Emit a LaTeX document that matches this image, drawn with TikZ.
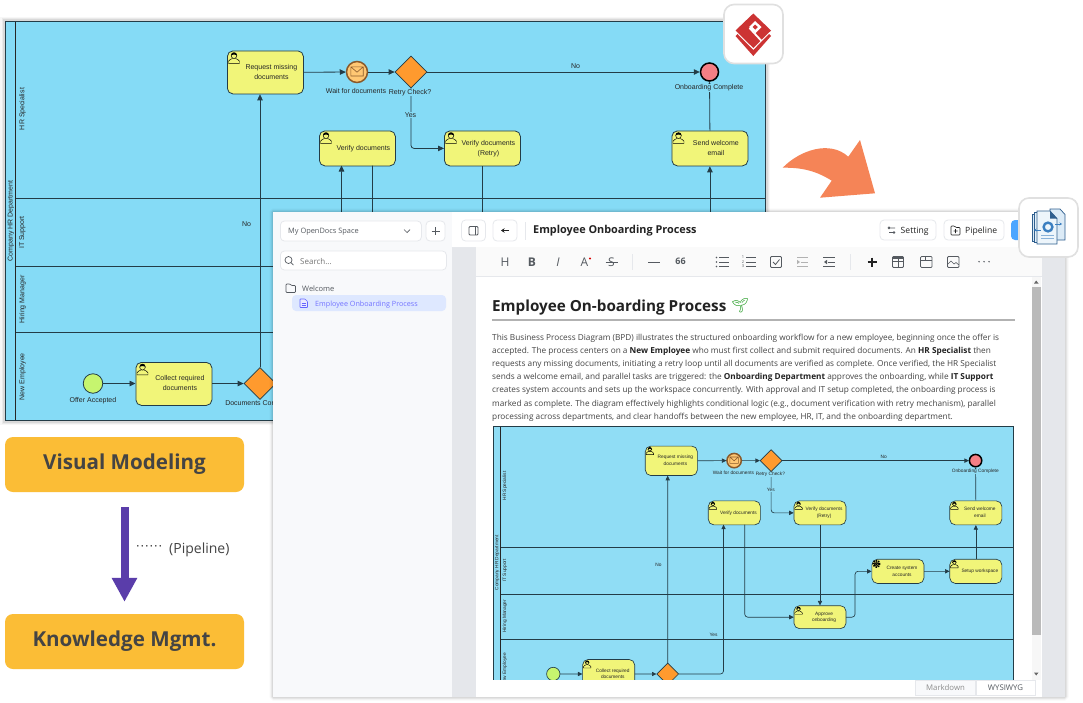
\documentclass[tikz,border=0pt]{standalone}
\usepackage{fontspec}
\usetikzlibrary{arrows.meta,shapes.geometric,calc}
\newfontfamily\ui{Open Sans}
\newfontfamily\bp{Liberation Sans}
\newfontfamily\emo{Noto Emoji}
\definecolor{bpbig}{HTML}{85DBF6}
\definecolor{bpsmall}{HTML}{90DDF5}
\colorlet{bpbg}{bpbig}
\definecolor{bpline}{HTML}{233C47}
\definecolor{bptask}{HTML}{F1F579}
\definecolor{bpdia}{HTML}{FF9A2E}
\definecolor{bpstart}{HTML}{C6F56F}
\definecolor{bpend}{HTML}{F57F85}
\definecolor{bpev}{HTML}{FFC773}
\definecolor{bpevb}{HTML}{8A5A2B}
\definecolor{goldbox}{HTML}{FBBD36}
\definecolor{purp}{HTML}{5A3DAA}
\definecolor{orangearrow}{HTML}{F58457}
\definecolor{panel}{HTML}{E5E7EB}
\definecolor{side}{HTML}{F8F9FB}
\definecolor{bord}{HTML}{E6E8EC}
\definecolor{txt}{HTML}{444444}
\definecolor{dark}{HTML}{222222}
\definecolor{ic}{HTML}{555A60}
\definecolor{logored}{HTML}{CC3333}
\definecolor{docblue}{HTML}{3C7FC0}
\definecolor{docfill}{HTML}{DCEBF7}
\definecolor{docline}{HTML}{2F5F8F}
\newif\ifbigver
\newcommand\hid[1]{\ifbigver\else#1\fi}
\newcommand\tiplen{6pt}
\newcommand\tipwid{5.5pt}
\newcommand\lw{.8pt}
\tikzset{
 bptext/.style={font=\bp\fontsize{7}{10}\selectfont,text=black!85,inner sep=.6pt},
 lbl/.style={bptext,fill=bpbg},
 lane/.style={bptext,rotate=90},
 taskbox/.style={draw=bpline,fill=bptask,line width=\lw,rounded corners=5.5pt,bptext,inner sep=0pt,anchor=north west,minimum width=76pt},
 gate/.style={diamond,aspect=1,draw=bpline,fill=bpdia,line width=\lw,inner sep=0pt,minimum width=32pt,minimum height=32pt},
 conn/.style={draw=bpline,line width=\lw,rounded corners=3pt,-{Triangle[length=\tiplen,width=\tipwid]}},
 plain/.style={draw=bpline,line width=\lw},
 btn/.style={draw=bord,fill=white,line width=.8pt,rounded corners=4pt,inner sep=0pt},
 uitext/.style={font=\ui\fontsize{#1}{#1}\selectfont,inner sep=0pt,text=txt},
 uitext/.default=8.5,
 tool/.style={draw=ic,line width=.9pt},
 gbox/.style={fill=goldbox,rounded corners=8pt,minimum width=239pt,minimum height=55pt,inner sep=0pt,font=\ui\bfseries\fontsize{20.6}{24}\selectfont,text=txt},
 logobox/.style={fill=white,rounded corners=10pt,draw=black!12,line width=1.6pt,minimum width=59pt,minimum height=59pt,inner sep=0pt}
}
\newcommand\softshad[5]{%
 \draw[line width=7pt,black,opacity=.03,rounded corners=#5] (#1,#2) rectangle (#3,#4);
 \draw[line width=4.5pt,black,opacity=.05,rounded corners=#5] (#1,#2) rectangle (#3,#4);
 \draw[line width=2.5pt,black,opacity=.07,rounded corners=#5] (#1,#2) rectangle (#3,#4);}
\newcommand\usr{%
 \draw[black,line width=.45pt,fill=bptask] (1.5,12.8) -- (1.5,10.8) .. controls (1.5,9) and (4.5,9.2) .. (5.3,8) -- (8.7,8) .. controls (9.5,9.2) and (12.5,9) .. (12.5,10.8) -- (12.5,12.8) -- cycle;
 \draw[black,line width=.45pt,fill=bptask] (7,5.2) circle (2.8);
 \fill[black] (4,5) .. controls (3.6,0.8) and (10.4,0.8) .. (10,5) .. controls (9,3.8) and (5,3.8) .. (4,5) -- cycle;}
\newcommand\gear{%
 \draw[black,line width=1.7pt,dash pattern=on 1.3pt off 1pt] (7,7) circle (4.6);
 \draw[black,line width=.6pt] (7,7) circle (3.2);
 \draw[black,line width=.8pt] (7,7) circle (1.6);}
\newcommand\task[6]{%
 \pgfmathsetmacro\hh{#4-#3}%
 \node[taskbox,minimum height=\hh pt] (#1) at (#2,#3) {\kern12pt\begin{tabular}{@{}c@{}}#5\end{tabular}};
 \begin{scope}[shift={(#2,#3)}]#6\end{scope}}
\newcommand\diagram{%
 \fill[bpbg] (5,21.5) rectangle (765.5,420.5);
 \draw[bpline,line width=\lw] (15.5,198.5) -- (765.5,198.5) (15.5,266.5) -- (765.5,266.5) (15.5,332.5) -- (765.5,332.5);
 \draw[black!85,line width=1pt] (15.5,21.5) -- (15.5,420.5);
 \draw[bpline,line width=1pt] (5,21.5) rectangle (765.5,420.5);
 \node[bptext,rotate=90] (pool) at (11,221) {Company HR Department};
 \node[lane] (l1) at (22.5,109) {HR Specialist};
 \node[lane] (l2) at (22.5,232.5) {IT Support};
 \node[lane] (l3) at (22.5,299.5) {Hiring Manager};
 \node[lane] (l4) at (22.5,376.7) {New Employee};
 \task{req}{227}{50.5}{93.5}{Request missing\\documents}{\usr}
 \task{ver}{319}{130.5}{165.5}{Verify documents}{\usr}
 \task{vret}{444}{130.5}{165.5}{Verify documents\\(Retry)}{\usr}
 \task{send}{671.5}{130.5}{165.5}{Send welcome\\email}{\usr}
 \task{coll}{135.5}{362}{405}{Collect required\\documents}{\usr}
 \task{create}{557.8}{215.7}{251}{\hid{Create system\\accounts}}{\gear}
 \task{setup}{671.5}{215.7}{251}{\hid{Setup workspace}}{\usr}
 \task{appr}{444}{283.5}{317}{\hid{Approve\\onboarding}}{\usr}
 \node[circle,draw=bpevb,fill=bpev,line width=1.5pt,minimum size=21pt,inner sep=0pt] (wait) at (357,72) {};
 \draw[bpevb,line width=.6pt,fill=bpev] (350.8,66.8) rectangle (363.2,76) (350.8,66.8) -- (357,72.2) -- (363.2,66.8);
 \node[gate] (retry) at (411,72) {};
 \node[gate] (docc) at (260,383.5) {};
 \node[circle,draw=black,fill=bpend,line width=1.5pt,minimum size=18pt,inner sep=0pt] (fin) at (709.5,72) {};
 \node[circle,draw=bpline,fill=bpstart,line width=\lw,minimum size=19.5pt,inner sep=0pt] (st) at (93,383.5) {};
 \coordinate (vin) at (341.5,165.5);
 \coordinate (vout) at (372.5,165.5);
 \coordinate (mid) at (533.5,266);
 \path[conn] (req) -- (wait);
 \path[conn] (wait) -- (retry);
 \path[conn] (retry) -- (fin);
 \path[conn] (retry.south) |- (vret.west);
 \path[conn] (st) -- (coll.west |- st);
 \path[conn] (coll.east |- docc) -- (docc);
 \path[conn] (docc) -- (docc |- req.south);
 \path[conn] (docc.east) -| (vin);
 \path[conn] (vout) |- (appr.west);
 \path[conn] (vret.south) -- (appr.north);
 \path[conn] (appr.east) -| (mid) |- (create.west);
 \path[conn] (create.east |- setup) -- (setup);
 \path[conn] (setup.north) -- (send.south);
 \path[conn] (send.north) -- (fin.south);
 \node[lbl] (lwait) at (356,90.5) {Wait for documents};
 \node[lbl] (lretry) at (410,92.5) {Retry Check?};
 \node[lbl] (lfin) at (709,88) {Onboarding Complete};
 \node[lbl] (lyes) at (410.5,115) {Yes};
 \node[bptext] (lno) at (575.5,66) {No};
 \node[bptext] (lno2) at (246.5,224.5) {No};
 \node[bptext] (lyes2) at (327,325.7) {\hid{Yes}};
 \node[bptext] (lst) at (93,400.5) {Offer Accepted};
 \node[bptext,anchor=west] (ldoc) at (224.5,404) {Documents Complete};
}
\begin{document}
\begin{tikzpicture}[x=1pt,y=-1pt]
\useasboundingbox (0,0) rectangle (1083,702);
\fill[white] (0,0) rectangle (1083,702);
% big diagram
\softshad{4}{20.5}{766.5}{421.5}{0pt}
\bigvertrue
\begin{scope}[name prefix=b-]
\diagram
\end{scope}
% logo
\node[logobox] (logo) at (753.5,34) {};
\fill[logored] (753.3,13.5) -- (771,30.5) -- (753.3,48) -- (735.5,30.5) -- cycle;
\fill[white] (755,21) -- (761.5,27) -- (755.5,33) -- (749,27) -- cycle;
\fill[logored] (755,24.5) -- (757.8,27) -- (755.2,29.6) -- (752.6,27) -- cycle;
\draw[white,line width=1.8pt] (749.5,28) -- (761.5,41);
\fill[logored] (735.5,36) -- (737.5,34) -- (753.3,50) -- (769,34) -- (771,36) -- (753.3,56) -- cycle;
% orange arrow
\fill[orangearrow] (782.7,167.7) .. controls (800,150) and (830,140) .. (848.3,156.7) -- (860,140) -- (875,193.3) -- (820,197.7) -- (831.7,180.7) .. controls (815,170) and (800,167.5) .. cycle;
% left boxes
\node[gbox] (vm) at (124.5,464.5) {\raisebox{-2pt}{Visual Modeling}};
\node[gbox] (km) at (124.5,641.5) {\raisebox{-2pt}{Knowledge Mgmt.}};
\draw[purp,line width=8pt,-{Triangle[length=24pt,width=24pt]},shorten <=15pt,shorten >=12pt] (vm.south) -- (km.north);
\node[uitext=9,text=dark,anchor=west] (dots) at (136.5,548) {\textbf{·\kern1.9pt·\kern1.9pt·\kern1.9pt·\kern1.9pt·\kern1.9pt·}};
\node[uitext=14,text=txt,anchor=west] (pipe) at (169,549.5) {(Pipeline)};
% window
\softshad{273}{212}{1065}{697}{1pt}
\fill[panel] (273,212) rectangle (1065,697);
\fill[side] (273,212) rectangle (451.5,697);
\fill[white] (451.5,212) rectangle (1065,247);
\draw[bord,line width=.8pt] (451.5,247) -- (1065,247);
\fill[white] (476,276) rectangle (1041.5,697);
\fill[black!2] (476,247) rectangle (1041.5,276);
\draw[bord,line width=.6pt] (476,276) -- (1041.5,276);
% sidebar
\node[btn,minimum width=141pt,minimum height=20pt,anchor=west] (space) at (280,231) {};
\node[uitext=7.4,anchor=west,text=ic] (spacet) at (288,232) {My OpenDocs Space};
\draw[ic,line width=.7pt] (404,229.5) -- (407,232.5) -- (410,229.5);
\node[btn,minimum width=19pt,minimum height=20pt] (plus) at (435.5,231) {};
\draw[ic,line width=.7pt] (431.5,231) -- (439.5,231) (435.5,227) -- (435.5,235);
\node[btn,minimum width=166pt,minimum height=19pt,anchor=west] (search) at (280,260.5) {};
\draw[ic,line width=.7pt] (288.5,260) circle (3.5) (291,262.6) -- (293.5,265);
\node[uitext=8,anchor=west,text=black!55] (searcht) at (300,262) {Search...};
\draw[ic,line width=.7pt,rounded corners=.8pt] (286,284) -- (290,284) -- (291.5,285.5) -- (295.5,285.5) -- (295.5,292.5) -- (286,292.5) -- cycle;
\node[uitext=7.5,anchor=west,text=ic] (welc) at (302,289) {Welcome};
\fill[blue!70!cyan!13,rounded corners=4pt] (292,295) rectangle (446,311);
\draw[blue!60!white,line width=.6pt,rounded corners=.6pt,fill=blue!8] (300,299) -- (305,299) -- (307.5,301.5) -- (307.5,307.5) -- (300,307.5) -- cycle;
\draw[blue!60!white,line width=.4pt] (301.5,303) -- (306,303) (301.5,305) -- (306,305);
\node[uitext=7.2,anchor=west,text=blue!55!white] (epr) at (315,304.2) {Employee Onboarding Process};
% top bar
\node[btn,minimum width=24pt,minimum height=21pt] (tog) at (473.5,230.5) {};
\draw[ic,line width=.8pt,rounded corners=1pt] (469,226.5) rectangle (478,235);
\fill[ic] (474.5,227) rectangle (476,234.5);
\node[btn,minimum width=24pt,minimum height=21pt] (back) at (505,230.5) {};
\draw[dark,line width=.8pt,-{Stealth[length=3.5pt,width=4.5pt]}] (509,230.5) -- (501,230.5);
\draw[bord,line width=.7pt] (525,222) -- (525,240);
\node[uitext=10.87,anchor=west,text=dark] (title) at (533,231) {\bfseries Employee Onboarding Process};
\node[btn,minimum width=56pt,minimum height=20pt] (bset) at (908,230) {};
\draw[ic,line width=.6pt] (889,228) -- (895,228) (889,232.5) -- (895,232.5) (889,227.9) circle (1) (894,232.5) circle (1);
\node[uitext=8.6,anchor=west,text=dark] (bsett) at (900.5,231) {Setting};
\node[btn,minimum width=60pt,minimum height=20pt] (bpipe) at (974,230) {};
\draw[dark,line width=.6pt,rounded corners=.8pt] (951,226) -- (954.5,226) -- (956,227.5) -- (960,227.5) -- (960,235) -- (951,235) -- cycle (953.5,231) -- (957.5,231) (955.5,229) -- (955.5,233);
\node[uitext=8.6,anchor=west,text=dark] (bpipet) at (965,231) {Pipeline};
\fill[blue!50!cyan!70,rounded corners=4pt] (1011,220) rectangle (1040,240);
% toolbar
\node[uitext=12,text=ic] (th) at (505,262) {H};
\node[uitext=12,text=ic] (tb) at (532,262) {\bfseries B};
\node[uitext=12,text=ic] (ti) at (558,262) {\itshape I};
\node[uitext=12,text=ic] (ta) at (584.5,262) {A};
\fill[red!85!black] (590,258.5) circle (1.2);
\node[uitext=12,text=ic] (ts) at (611.5,262) {S};
\draw[ic,line width=.7pt] (605.5,262) -- (617.5,262);
\draw[bord,line width=.7pt] (632.5,254) -- (632.5,270);
\draw[ic,line width=.9pt] (648,262) -- (660,262);
\node[uitext=9,text=ic] (tq) at (680.5,261.5) {\bfseries 66};
\draw[ic,line width=.8pt] (719,257.5) -- (729,257.5) (719,262) -- (729,262) (719,266.5) -- (729,266.5);
\fill[ic] (716.5,257.5) circle (.9) (716.5,262) circle (.9) (716.5,266.5) circle (.9);
\draw[ic,line width=.8pt] (746,257.5) -- (756,257.5) (746,262) -- (756,262) (746,266.5) -- (756,266.5);
\node[uitext=4,text=ic] (tn1) at (743,257.5) {1};
\node[uitext=4,text=ic] (tn2) at (743,262) {2};
\node[uitext=4,text=ic] (tn3) at (743,266.5) {3};
\draw[ic,line width=.8pt,rounded corners=1pt] (770.5,256.5) rectangle (781.5,267.5);
\draw[ic,line width=.8pt] (773,262) -- (775.5,264.5) -- (779.5,259.5);
\draw[black!30,line width=.8pt] (797,257.5) -- (808,257.5) (801,262) -- (808,262) (797,266.5) -- (808,266.5);
\fill[black!30] (797,259.8) -- (800,262) -- (797,264.2) -- cycle;
\draw[ic,line width=.8pt] (823,257.5) -- (834.5,257.5) (828,262) -- (834.5,262) (823,266.5) -- (834.5,266.5);
\fill[ic] (827,259.8) -- (824,262) -- (827,264.2) -- cycle;
\draw[bord,line width=.7pt] (850.5,254) -- (850.5,270);
\draw[dark,line width=1.1pt] (867.5,262) -- (876.5,262) (872,257.5) -- (872,266.5);
\draw[ic,line width=.9pt,rounded corners=1pt] (892.5,256.5) rectangle (903.5,267.5);
\draw[ic,line width=.7pt] (892.5,261) -- (903.5,261) (898,256.5) -- (898,267.5);
\fill[ic] (892.5,256.5) rectangle (903.5,258.5);
\draw[ic,line width=.7pt,rounded corners=1pt] (920.5,256.5) rectangle (932,267.5);
\draw[ic,line width=.7pt] (920.5,260) -- (932,260) (925,256.5) -- (925,260);
\draw[ic,line width=.8pt,rounded corners=1pt] (947.5,256.5) rectangle (959,267.5);
\draw[ic,line width=.6pt] (947.5,264.5) -- (951,261) -- (954,264) -- (956,262.5) -- (959,265);
\fill[ic] (979,261.7) circle (.8) (984,261.7) circle (.8) (989,261.7) circle (.8);
% document
\node[uitext=15.25,anchor=west,text=dark] (head) at (492,307.5) {\bfseries Employee On-boarding Process};
\node[uitext=14,text=green!55!black] (seed) at (740,305.5) {\emo\textbf{🌱}};
\draw[black!30,line width=2pt] (492,320) -- (1015,320);
\node[anchor=north west,inner sep=0pt,align=left,text=txt,font=\ui\fontsize{8.25}{13.2}\selectfont] (para) at (492,333.5) {%
This Business Process Diagram (BPD) illustrates the structured onboarding workflow for a new employee, beginning once the offer is\\
accepted. The process centers on a \textbf{\textcolor{dark}{New Employee}} who must first collect and submit required documents. An \textbf{\textcolor{dark}{HR Specialist}} then\\
requests any missing documents, initiating a retry loop until all documents are verified as complete. Once verified, the HR Specialist\\
sends a welcome email, and parallel tasks are triggered: the \textbf{\textcolor{dark}{Onboarding Department}} approves the onboarding, while \textbf{\textcolor{dark}{IT Support}}\\
creates system accounts and sets up the workspace concurrently. With approval and IT setup completed, the onboarding process is\\
marked as complete. The diagram effectively highlights conditional logic (e.g., document verification with retry mechanism), parallel\\
processing across departments, and clear handoffs between the new employee, HR, IT, and the onboarding department.};
% small diagram
\bigverfalse
\colorlet{bpbg}{bpsmall}
\renewcommand\tiplen{4.5pt}\renewcommand\tipwid{4.2pt}\renewcommand\lw{.65pt}
\begin{scope}
\clip (492,425) rectangle (1016,680);
\begin{scope}[shift={(489.575,411.27)},scale=.685,transform shape,name prefix=s-]
\diagram
\end{scope}
\end{scope}
% scrollbar and status bar
\fill[black!3] (1032,276.5) rectangle (1040.5,680);
\fill[black!27] (1032,287) rectangle (1040.5,635);
\fill[black!60] (1034,283.5) -- (1038.5,283.5) -- (1036.2,280.5) -- cycle;
\fill[black!60] (1034,672.5) -- (1038.5,672.5) -- (1036.2,675.5) -- cycle;
\fill[white] (476,680) rectangle (1041.5,697);
\node[draw=bord,fill=side,line width=.6pt,minimum width=60pt,minimum height=15.5pt,inner sep=0pt,font=\ui\fontsize{7.8}{8}\selectfont,text=black!45] (md) at (945.5,688) {Markdown};
\node[draw=bord,fill=white,line width=.6pt,minimum width=59pt,minimum height=15.5pt,inner sep=0pt,font=\ui\fontsize{7.8}{8}\selectfont,text=ic] (wy) at (1005.5,688) {WYSIWYG};
% doc icon
\node[logobox] (dlogo) at (1048.5,227.5) {};
\draw[docline,line width=.7pt,fill=docfill] (1032,214) -- (1047,214) -- (1047,241) -- (1032,241) -- cycle;
\draw[docline,line width=.7pt,fill=docfill!70] (1034.5,212.5) -- (1047,212.5) -- (1047,242.5) -- (1034.5,242.5) -- cycle;
\draw[docline,line width=.7pt,fill=docfill] (1050,209) -- (1060,209) -- (1065,214.5) -- (1065,240) -- (1050,240) -- cycle;
\draw[docline,line width=.8pt,fill=docfill!50] (1037,211) -- (1050,211) -- (1057,218.5) -- (1057,244) -- (1037,244) -- cycle;
\fill[docline] (1050,211) -- (1057,218.5) -- (1050,218.5) -- cycle;
\draw[docblue,line width=2.4pt] (1048,227) circle (4.4);
\draw[docblue,line width=.7pt,-{Stealth[length=2.5pt,width=3pt]}] (1041,230) -- (1034,230);
\draw[docblue,line width=.7pt,-{Stealth[length=2.5pt,width=3pt]}] (1055,224) -- (1062,224);
\draw[docblue!60,line width=.7pt] (1041,235.5) -- (1054,235.5) (1041,238.5) -- (1054,238.5);
\end{tikzpicture}
\end{document}
